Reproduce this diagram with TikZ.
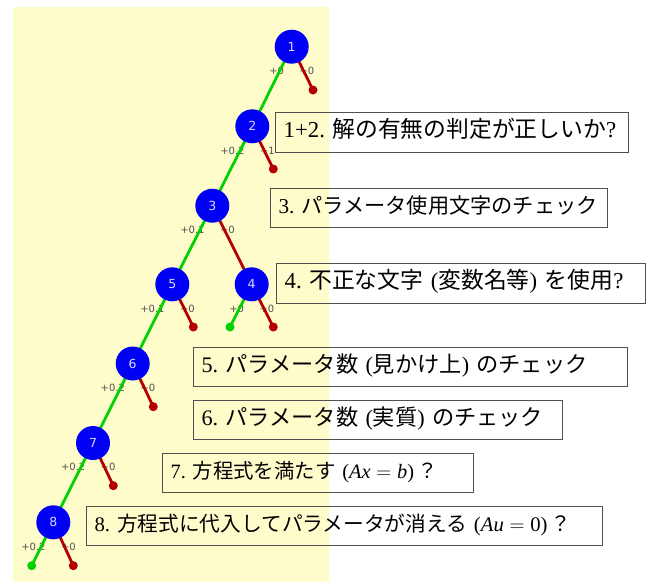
\documentclass[tikz,border=0pt]{standalone}
\usepackage{fontspec}
\setmainfont{Liberation Serif}
\newfontfamily\jp{Noto Sans CJK JP}
\newfontfamily\lblfont{DejaVu Sans}
\pgfdeclarelayer{back}\pgfdeclarelayer{lbl}\pgfdeclarelayer{edges}
\pgfsetlayers{back,lbl,edges,main}
\definecolor{bgyellow}{RGB}{255,252,204}
\definecolor{nodeblue}{RGB}{0,0,245}
\definecolor{edgegreen}{RGB}{0,210,0}
\definecolor{edgered}{RGB}{180,0,0}
\definecolor{lblgray}{RGB}{80,80,80}
\definecolor{boxgray}{RGB}{80,80,80}
\definecolor{numcol}{RGB}{215,215,255}
\frenchspacing
\begin{document}
\begin{tikzpicture}[x=1pt,y=-1pt,
 tnode/.style={circle, fill=nodeblue, minimum size=34pt, inner sep=0pt, text=numcol, font=\lblfont\fontsize{12.5}{12.5}\selectfont},
 rdot/.style={circle, fill=edgered, minimum size=9pt, inner sep=0pt},
 gdot/.style={circle, fill=edgegreen, minimum size=9pt, inner sep=0pt},
 redge/.style={draw=edgered, line width=2.8pt},
 gedge/.style={draw=edgegreen, line width=2.8pt},
 lbll/.style={anchor=east, text=lblgray, inner sep=0pt, font=\lblfont\fontsize{10}{10}\selectfont},
 lblr/.style={anchor=west, text=lblgray, inner sep=0pt, font=\lblfont\fontsize{10}{10}\selectfont},
 qbox/.style={draw=boxgray, line width=1.2pt, minimum height=39.5pt, inner xsep=8pt, inner ysep=0pt, align=left, anchor=west, font=\fontsize{#1}{25}\selectfont, text height=15pt, text depth=5pt},
 qbox/.default=21]
\useasboundingbox (0,0) rectangle (656,582);
\begin{pgfonlayer}{back}
\fill[bgyellow] (13,7) rectangle (329,582);
\end{pgfonlayer}

% tree nodes
\node[tnode] (n1) at (291.7,46.7) {1};
\node[tnode] (n2) at (252.3,126.3) {2};
\node[tnode] (n3) at (212.3,205.7) {3};
\node[tnode] (n5) at (172.3,284.3) {5};
\node[tnode] (n4) at (251.7,284.3) {4};
\node[tnode] (n6) at (132.7,363.5) {6};
\node[tnode] (n7) at (93,443) {7};
\node[tnode] (n8) at (53.3,522.3) {8};

% leaf dots
\node[rdot] (r1) at (313,90) {};
\node[rdot] (r2) at (273.3,169) {};
\node[rdot] (r5) at (193.3,327) {};
\node[rdot] (r4) at (273.3,327) {};
\node[gdot] (g4) at (230,327) {};
\node[rdot] (r6) at (153.3,406.7) {};
\node[rdot] (r7) at (113.3,485.7) {};
\node[rdot] (r8) at (73.3,565.7) {};
\node[gdot] (g8) at (31.7,565.7) {};

% labels
\begin{pgfonlayer}{lbl}
\node[lbll] (l1) at (284.2,71) {+0};
\node[lblr] (m1) at (299.2,71) {+0};
\node[lbll] (l2) at (244.8,150.5) {+0.2};
\node[lblr] (m2) at (259.8,150.5) {+1};
\node[lbll] (l3) at (204.8,230) {+0.1};
\node[lblr] (m3) at (219.8,230) {+0};
\node[lbll] (l5) at (164.8,308.5) {+0.1};
\node[lblr] (m5) at (179.8,308.5) {+0};
\node[lbll] (l4) at (244.2,308.5) {+0};
\node[lblr] (m4) at (259.2,308.5) {+0};
\node[lbll] (l6) at (125.2,388) {+0.2};
\node[lblr] (m6) at (140.2,388) {+0};
\node[lbll] (l7) at (85.5,467) {+0.2};
\node[lblr] (m7) at (100.5,467) {+0};
\node[lbll] (l8) at (45.8,546.5) {+0.2};
\node[lblr] (m8) at (60.8,546.5) {+0};
\end{pgfonlayer}

% edges
\begin{pgfonlayer}{edges}
\draw[gedge] (n1.center) -- (n2.center);
\draw[redge] (n1.center) -- (r1.center);
\draw[gedge] (n2.center) -- (n3.center);
\draw[redge] (n2.center) -- (r2.center);
\draw[gedge] (n3.center) -- (n5.center);
\draw[redge] (n3.center) -- (n4.center);
\draw[gedge] (n4.center) -- (g4.center);
\draw[redge] (n4.center) -- (r4.center);
\draw[gedge] (n5.center) -- (n6.center);
\draw[redge] (n5.center) -- (r5.center);
\draw[gedge] (n6.center) -- (n7.center);
\draw[redge] (n6.center) -- (r6.center);
\draw[gedge] (n7.center) -- (n8.center);
\draw[redge] (n7.center) -- (r7.center);
\draw[gedge] (n8.center) -- (g8.center);
\draw[redge] (n8.center) -- (r8.center);
\end{pgfonlayer}

% question boxes
\node[qbox=22.8, text width=337pt] (b1) at (275,132.5) {1+2. {\jp 解の有無の判定が正しいか}?};
\node[qbox=21.2, text width=321pt] (b3) at (270,208) {3. {\jp パラメータ使用文字のチェック}};
\node[qbox=22.8, text width=353pt] (b4) at (276,283.5) {4. {\jp 不正な文字} ({\jp 変数名等}) {\jp を使用}?};
\node[qbox=22.2, text width=418pt] (b5) at (193,367) {5. {\jp パラメータ数} ({\jp 見かけ上}) {\jp のチェック}};
\node[qbox=22.2, text width=353pt] (b6) at (193,420) {6. {\jp パラメータ数} ({\jp 実質}) {\jp のチェック}};
\node[qbox=20.4, text width=295pt] (b7) at (162,473) {7. {\jp 方程式を満たす} (\textit{Ax}${}={}$\textit{b})\,{\jp ？}};
\node[qbox=20.7, text width=500pt] (b8) at (86,526) {8. {\jp 方程式に代入してパラメータが消える} (\textit{Au}${}={}$0)\,{\jp ？}};
\end{tikzpicture}
\end{document}
